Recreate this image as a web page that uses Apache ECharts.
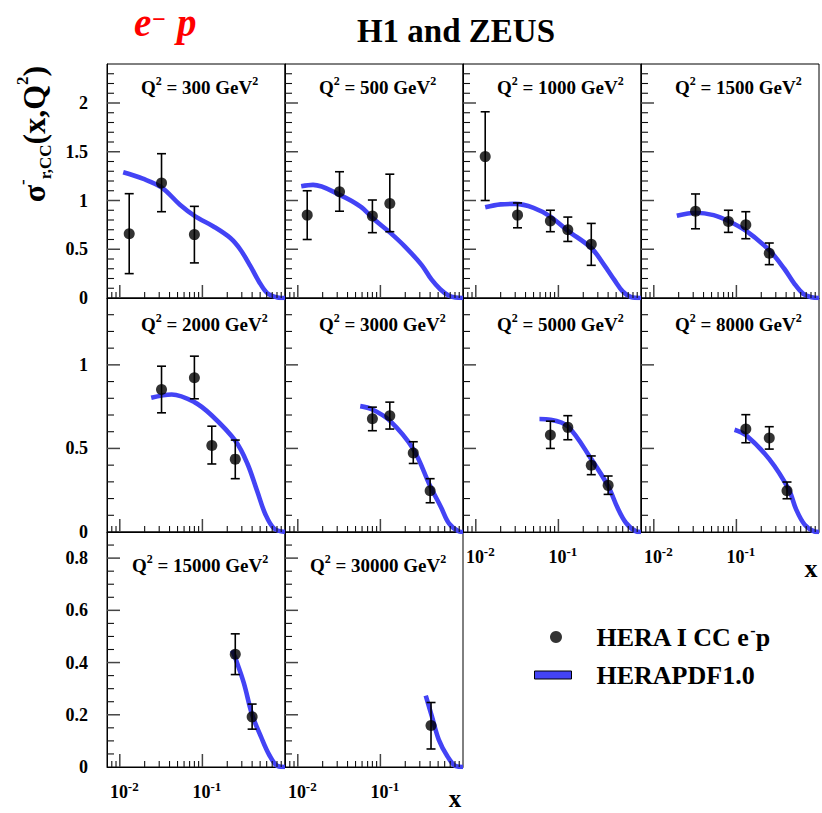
<!DOCTYPE html>
<html>
<head>
<meta charset="utf-8">
<script src="https://cdn.jsdelivr.net/npm/echarts@6/dist/echarts.min.js"></script>
<style>
html,body{margin:0;padding:0;background:#ffffff;}
#chart{width:822px;height:813px;}
</style>
</head>
<body>
<div id="chart"></div>
<script>
// ---------------- DATA ----------------
const q2Labels = ['300','500','1000','1500','2000','3000','5000','8000','15000','30000'];

// Q2 = 300
const x300 = [0.013, 0.032, 0.08];
const y300 = [0.66, 1.18, 0.65];
const lo300 = [0.25, 0.885, 0.36];
const hi300 = [1.07, 1.48, 0.94];
const fx300 = [0.011, 0.019, 0.032, 0.0535, 0.082, 0.136, 0.218, 0.289, 0.383, 0.483, 0.61, 0.81, 1.0];
const fy300 = [1.29, 1.224, 1.135, 0.957, 0.837, 0.734, 0.615, 0.495, 0.324, 0.17, 0.05, 0.006, 0];
// Q2 = 500
const x500 = [0.013, 0.032, 0.08, 0.13];
const y500 = [0.85, 1.09, 0.84, 0.97];
const lo500 = [0.60, 0.89, 0.67, 0.68];
const hi500 = [1.10, 1.295, 1.005, 1.27];
const fx500 = [0.011, 0.0153, 0.0325, 0.057, 0.083, 0.13, 0.197, 0.315, 0.415, 0.53, 0.67, 0.81, 1.0];
const fy500 = [1.145, 1.16, 1.056, 0.94, 0.81, 0.673, 0.53, 0.34, 0.19, 0.09, 0.025, 0.005, 0];
// Q2 = 1000
const x1000 = [0.013, 0.032, 0.08, 0.13, 0.25];
const y1000 = [1.45, 0.85, 0.79, 0.70, 0.55];
const lo1000 = [1.0, 0.72, 0.68, 0.58, 0.335];
const hi1000 = [1.91, 0.975, 0.90, 0.83, 0.765];
const fx1000 = [0.013, 0.02, 0.03, 0.05, 0.08, 0.13, 0.25, 0.357, 0.473, 0.6, 0.755, 1.0];
const fy1000 = [0.93, 0.96, 0.965, 0.925, 0.835, 0.69, 0.513, 0.34, 0.188, 0.068, 0.01, 0];
// Q2 = 1500
const x1500 = [0.032, 0.08, 0.13, 0.25];
const y1500 = [0.89, 0.785, 0.75, 0.46];
const lo1500 = [0.71, 0.673, 0.608, 0.342];
const hi1500 = [1.067, 0.90, 0.885, 0.564];
const fx1500 = [0.019, 0.0325, 0.053, 0.08, 0.13, 0.25, 0.38, 0.5, 0.64, 0.81, 1.0];
const fy1500 = [0.844, 0.875, 0.85, 0.79, 0.69, 0.49, 0.30, 0.15, 0.045, 0.008, 0];
// Q2 = 2000
const x2000 = [0.032, 0.08, 0.13, 0.25];
const y2000 = [0.853, 0.923, 0.518, 0.436];
const lo2000 = [0.713, 0.797, 0.407, 0.319];
const hi2000 = [0.992, 1.052, 0.633, 0.55];
const fx2000 = [0.024, 0.0425, 0.08, 0.13, 0.25, 0.35, 0.46, 0.58, 0.74, 1.0];
const fy2000 = [0.803, 0.823, 0.777, 0.697, 0.546, 0.41, 0.245, 0.105, 0.02, 0];
// Q2 = 3000
const x3000 = [0.08, 0.13, 0.25, 0.4];
const y3000 = [0.678, 0.696, 0.472, 0.247];
const lo3000 = [0.606, 0.616, 0.41, 0.175];
const hi3000 = [0.747, 0.777, 0.54, 0.319];
const fx3000 = [0.057, 0.08, 0.13, 0.25, 0.4, 0.54, 0.68, 0.9, 1.0];
const fy3000 = [0.753, 0.733, 0.666, 0.496, 0.275, 0.15, 0.05, 0.003, 0];
// Q2 = 5000
const x5000 = [0.08, 0.13, 0.25, 0.4];
const y5000 = [0.58, 0.626, 0.40, 0.279];
const lo5000 = [0.50, 0.552, 0.343, 0.225];
const hi5000 = [0.663, 0.696, 0.455, 0.335];
const fx5000 = [0.059, 0.08, 0.13, 0.25, 0.4, 0.52, 0.66, 0.87, 1.0];
const fy5000 = [0.676, 0.672, 0.632, 0.436, 0.275, 0.145, 0.054, 0.004, 0];
// Q2 = 8000
const x8000 = [0.13, 0.25, 0.41];
const y8000 = [0.616, 0.562, 0.247];
const lo8000 = [0.534, 0.496, 0.199];
const hi8000 = [0.702, 0.63, 0.299];
const fx8000 = [0.095, 0.13, 0.25, 0.43, 0.53, 0.67, 0.88, 1.0];
const fy8000 = [0.612, 0.58, 0.436, 0.255, 0.134, 0.044, 0.003, 0];
// Q2 = 15000
const x15000 = [0.25, 0.4];
const y15000 = [0.432, 0.192];
const lo15000 = [0.354, 0.145];
const hi15000 = [0.51, 0.241];
const fx15000 = [0.23, 0.25, 0.317, 0.4, 0.51, 0.645, 0.82, 1.0];
const fy15000 = [0.447, 0.418, 0.322, 0.2, 0.117, 0.046, 0.003, 0];
// Q2 = 30000
const x30000 = [0.41];
const y30000 = [0.159];
const lo30000 = [0.069];
const hi30000 = [0.247];
const fx30000 = [0.354, 0.42, 0.51, 0.65, 0.82, 1.0];
const fy30000 = [0.273, 0.194, 0.104, 0.04, 0.003, 0];

// axis ticks
const xMajorTicks = [0.01, 0.1];
const xMinorTicks = [0.008, 0.009, 0.02, 0.03, 0.04, 0.05, 0.06, 0.07, 0.08, 0.09,
                     0.2, 0.3, 0.4, 0.5, 0.6, 0.7, 0.8, 0.9];
const xRange = [0.007, 1];
const rowYMax = [2.4, 1.4, 0.9];
const rowYInterval = [0.5, 0.5, 0.2];
const yMajorRow1 = [0.5, 1, 1.5, 2];
const yMinorRow1 = [0.1, 0.2, 0.3, 0.4, 0.6, 0.7, 0.8, 0.9, 1.1, 1.2, 1.3, 1.4, 1.6, 1.7, 1.8, 1.9, 2.1, 2.2, 2.3];
const yMajorRow2 = [0.5, 1];
const yMinorRow2 = [0.1, 0.2, 0.3, 0.4, 0.6, 0.7, 0.8, 0.9, 1.1, 1.2, 1.3];
const yMajorRow3 = [0.2, 0.4, 0.6, 0.8];
const yMinorRow3 = [0.05, 0.1, 0.15, 0.25, 0.3, 0.35, 0.45, 0.5, 0.55, 0.65, 0.7, 0.75, 0.85];

const seriesNameData = 'HERA I CC e-p';
const seriesNameFit = 'HERAPDF1.0';

// ---------------- BUILD ----------------
const panels = [
  [x300, y300, lo300, hi300, fx300, fy300],
  [x500, y500, lo500, hi500, fx500, fy500],
  [x1000, y1000, lo1000, hi1000, fx1000, fy1000],
  [x1500, y1500, lo1500, hi1500, fx1500, fy1500],
  [x2000, y2000, lo2000, hi2000, fx2000, fy2000],
  [x3000, y3000, lo3000, hi3000, fx3000, fy3000],
  [x5000, y5000, lo5000, hi5000, fx5000, fy5000],
  [x8000, y8000, lo8000, hi8000, fx8000, fy8000],
  [x15000, y15000, lo15000, hi15000, fx15000, fy15000],
  [x30000, y30000, lo30000, hi30000, fx30000, fy30000]
];
const yMajorByRow = [yMajorRow1, yMajorRow2, yMajorRow3];
const yMinorByRow = [yMinorRow1, yMinorRow2, yMinorRow3];

const SERIF = '"Liberation Serif", "Times New Roman", serif';
const BAND = '#4343f5';
const colLeft = [107, 285, 463, 641];
const colW = 178;
const rowTop = [64, 298, 532];
const rowH = [234, 234, 235];
const titleDx = [34, 34, 25];
const titleY = [87, 324, 565];

// error bars + (on the first point) the inward frame ticks of the panel,
// all placed through the panel's own axes
function makeBarRenderer(row) {
  return function (params, api) {
    const x = api.value(0);
    const pLo = api.coord([x, api.value(2)]);
    const pHi = api.coord([x, api.value(3)]);
    const cap = 4.5;
    const st = { stroke: '#000', lineWidth: 1.6, fill: null };
    const children = [
      { type: 'line', shape: { x1: pLo[0], y1: pLo[1], x2: pHi[0], y2: pHi[1] }, style: st },
      { type: 'line', shape: { x1: pLo[0] - cap, y1: pLo[1], x2: pLo[0] + cap, y2: pLo[1] }, style: st },
      { type: 'line', shape: { x1: pHi[0] - cap, y1: pHi[1], x2: pHi[0] + cap, y2: pHi[1] }, style: st }
    ];
    if (params.dataIndex === 0) {
      const majSt = { stroke: '#444', lineWidth: 1.5, fill: null };
      const minSt = { stroke: '#111', lineWidth: 1.1, fill: null };
      xMajorTicks.forEach(function (v) {
        const q = api.coord([v, 0]);
        children.push({ type: 'line', shape: { x1: q[0], y1: q[1], x2: q[0], y2: q[1] - 13 }, style: majSt });
      });
      xMinorTicks.forEach(function (v) {
        const q = api.coord([v, 0]);
        children.push({ type: 'line', shape: { x1: q[0], y1: q[1], x2: q[0], y2: q[1] - 6 }, style: minSt });
      });
      yMajorByRow[row].forEach(function (v) {
        const q = api.coord([xRange[0], v]);
        children.push({ type: 'line', shape: { x1: q[0], y1: q[1], x2: q[0] + 13, y2: q[1] }, style: majSt });
      });
      yMinorByRow[row].forEach(function (v) {
        const q = api.coord([xRange[0], v]);
        children.push({ type: 'line', shape: { x1: q[0], y1: q[1], x2: q[0] + 7, y2: q[1] }, style: minSt });
      });
    }
    return { type: 'group', children: children };
  };
}

const grids = [], xAxes = [], yAxes = [], series = [], graphics = [];

panels.forEach(function (p, i) {
  const row = Math.floor(i / 4), col = i % 4;
  const px = p[0], py = p[1], plo = p[2], phi = p[3], fx = p[4], fy = p[5];
  grids.push({
    left: colLeft[col], top: rowTop[row], width: colW, height: rowH[row],
    show: true, borderColor: '#000', borderWidth: 1, backgroundColor: 'transparent',
    containLabel: false, outerBoundsMode: 'none', z: 0
  });
  const showXLabel = (row === 2) || (row === 1 && col >= 2);
  xAxes.push({
    type: 'log', logBase: 10, gridIndex: i, position: 'bottom',
    min: xRange[0], max: xRange[1],
    axisLine: { show: true, lineStyle: { color: '#000', width: 1 } },
    axisTick: { show: false },
    minorTick: { show: false },
    splitLine: { show: false },
    splitArea: { show: false },
    axisLabel: {
      show: showXLabel, customValues: xMajorTicks, margin: 13, padding: [0, 0, 0, 9],
      formatter: function (v) { return '{b|10}{s|' + Math.round(Math.log10(v)) + '}'; },
      rich: {
        b: { fontFamily: SERIF, fontWeight: 'bold', fontSize: 18, color: '#000', lineHeight: 24 },
        s: { fontFamily: SERIF, fontWeight: 'bold', fontSize: 13, color: '#000', lineHeight: 11, verticalAlign: 'top' }
      }
    }
  });
  yAxes.push({
    type: 'value', gridIndex: i, min: 0, max: rowYMax[row], interval: rowYInterval[row],
    axisLine: { show: true, lineStyle: { color: '#000', width: 1 } },
    axisTick: { show: false },
    minorTick: { show: false },
    splitLine: { show: false },
    splitArea: { show: false },
    axisLabel: {
      show: col === 0, showMaxLabel: false, margin: 19,
      fontFamily: SERIF, fontWeight: 'bold', fontSize: 18, color: '#000'
    }
  });

  series.push({
    type: 'line', name: seriesNameFit, xAxisIndex: i, yAxisIndex: i,
    data: fx.map(function (x, k) { return [x, fy[k]]; }),
    smooth: 0.35, symbol: 'none', showSymbol: false,
    lineStyle: { color: BAND, width: 4.6, cap: 'butt' },
    itemStyle: { color: BAND },
    z: 2, silent: true, animation: false
  });
  series.push({
    type: 'custom', xAxisIndex: i, yAxisIndex: i,
    data: px.map(function (x, k) { return [x, py[k], plo[k], phi[k]]; }),
    encode: { x: 0, y: [1, 2, 3] },
    renderItem: makeBarRenderer(row),
    z: 3, silent: true, animation: false
  });
  series.push({
    type: 'scatter', name: seriesNameData, xAxisIndex: i, yAxisIndex: i,
    data: px.map(function (x, k) { return [x, py[k]]; }),
    symbol: 'circle', symbolSize: 11,
    itemStyle: { color: '#000' },
    z: 4, silent: true, animation: false
  });

  graphics.push({
    type: 'text', x: colLeft[col] + titleDx[row], y: titleY[row], silent: true,
    style: {
      text: '{m|Q}{s|2}{m| = ' + q2Labels[i] + ' GeV}{s|2}',
      align: 'left', verticalAlign: 'middle',
      rich: {
        m: { fontFamily: SERIF, fontWeight: 'bold', fontSize: 19, fill: '#000', lineHeight: 24 },
        s: { fontFamily: SERIF, fontWeight: 'bold', fontSize: 12, fill: '#000', lineHeight: 8, verticalAlign: 'top' }
      }
    }
  });
});

// Global texts
graphics.push({
  type: 'text', x: 456, y: 31, silent: true,
  style: { text: 'H1 and ZEUS', fontFamily: SERIF, fontWeight: 'bold', fontSize: 33, fill: '#000', align: 'center', verticalAlign: 'middle', lineHeight: 36 }
});
graphics.push({
  type: 'text', x: 134, y: 22, silent: true,
  style: {
    text: '{e|e}{m|\u2212}{e|p}', align: 'left', verticalAlign: 'middle',
    rich: {
      e: { fontFamily: SERIF, fontWeight: 'bold', fontStyle: 'italic', fontSize: 39, fill: '#ff0000', lineHeight: 30 },
      m: { fontFamily: SERIF, fontWeight: 'bold', fontSize: 24, fill: '#ff0000', lineHeight: 19, verticalAlign: 'top', padding: [0, 11, 0, 1] }
    }
  }
});
graphics.push({
  type: 'text', x: 34, y: 134, rotation: Math.PI / 2, silent: true,
  style: {
    text: '{m|\u03c3}{sup|-}{sub|r,CC}{m|(x,Q}{sup|2}{m|)}', align: 'center', verticalAlign: 'middle',
    rich: {
      m: { fontFamily: SERIF, fontWeight: 'bold', fontSize: 32, fill: '#000', lineHeight: 40 },
      sup: { fontFamily: SERIF, fontWeight: 'bold', fontSize: 17, fill: '#000', lineHeight: 6, verticalAlign: 'top' },
      sub: { fontFamily: SERIF, fontWeight: 'bold', fontSize: 17, fill: '#000', lineHeight: 14, verticalAlign: 'bottom' }
    }
  }
});
graphics.push({
  type: 'text', x: 455, y: 798.5, silent: true,
  style: { text: 'x', fontFamily: SERIF, fontWeight: 'bold', fontSize: 25, fill: '#000', align: 'center', verticalAlign: 'middle', lineHeight: 20 }
});
graphics.push({
  type: 'text', x: 811, y: 568, silent: true,
  style: { text: 'x', fontFamily: SERIF, fontWeight: 'bold', fontSize: 26, fill: '#000', align: 'center', verticalAlign: 'middle', lineHeight: 22 }
});

const legendText = {
  fontFamily: SERIF, fontWeight: 'bold', fontSize: 26, color: '#000', lineHeight: 30,
  rich: { sup: { fontFamily: SERIF, fontWeight: 'bold', fontSize: 16, color: '#000', lineHeight: 14, verticalAlign: 'top' } }
};

const option = {
  animation: false,
  backgroundColor: '#ffffff',
  grid: grids,
  xAxis: xAxes,
  yAxis: yAxes,
  series: series,
  graphic: { elements: graphics },
  legend: [
    {
      data: [{ name: seriesNameData, icon: 'circle' }],
      left: 550, top: 622, padding: 0, itemWidth: 37, itemHeight: 12, selectedMode: false,
      formatter: function () { return 'HERA I CC e{sup|-}p'; },
      textStyle: Object.assign({ padding: [0, 0, 0, 17] }, legendText)
    },
    {
      data: [{ name: seriesNameFit, icon: 'rect' }],
      left: 534, top: 660, padding: 0, itemWidth: 37, itemHeight: 8, selectedMode: false,
      itemStyle: { color: BAND, borderColor: '#000', borderWidth: 1 },
      textStyle: Object.assign({ padding: [0, 0, 0, 20] }, legendText)
    }
  ]
};

const chart = echarts.init(document.getElementById('chart'), null, { renderer: 'svg', width: 822, height: 813 });
chart.setOption(option);
</script>
</body>
</html>
